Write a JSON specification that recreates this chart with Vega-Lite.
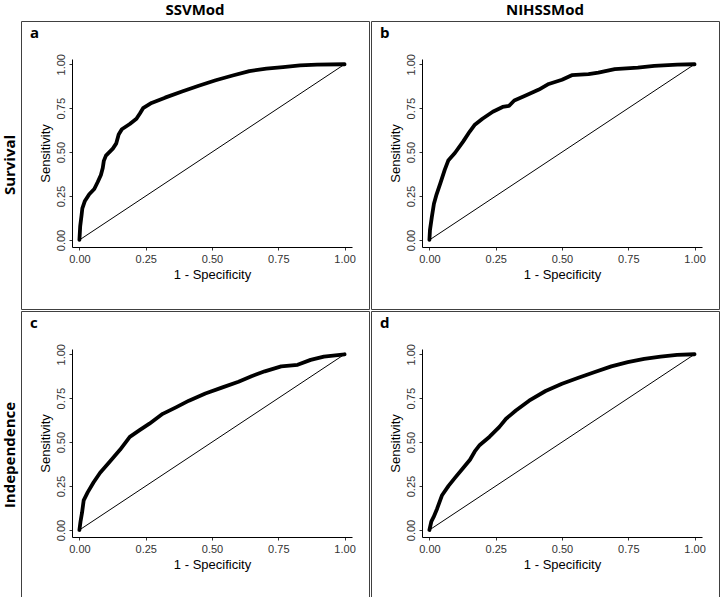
{
  "$schema": "https://vega.github.io/schema/vega-lite/v6.json",
  "padding": {"top": 3, "left": 2, "right": 0, "bottom": 0},
  "background": "white",
  "data": {
    "values": [
      {"model":"SSVMod","outcome":"Survival","series":"label","letter":"a"},
      {"model":"NIHSSMod","outcome":"Survival","series":"label","letter":"b"},
      {"model":"SSVMod","outcome":"Independence","series":"label","letter":"c"},
      {"model":"NIHSSMod","outcome":"Independence","series":"label","letter":"d"},
      {"model":"SSVMod","outcome":"Survival","series":"diag","fpr":0,"tpr":0},
      {"model":"SSVMod","outcome":"Survival","series":"diag","fpr":1,"tpr":1},
      {"model":"NIHSSMod","outcome":"Survival","series":"diag","fpr":0,"tpr":0},
      {"model":"NIHSSMod","outcome":"Survival","series":"diag","fpr":1,"tpr":1},
      {"model":"SSVMod","outcome":"Independence","series":"diag","fpr":0,"tpr":0},
      {"model":"SSVMod","outcome":"Independence","series":"diag","fpr":1,"tpr":1},
      {"model":"NIHSSMod","outcome":"Independence","series":"diag","fpr":0,"tpr":0},
      {"model":"NIHSSMod","outcome":"Independence","series":"diag","fpr":1,"tpr":1},

      {"model":"SSVMod","outcome":"Survival","series":"roc","fpr":0,"tpr":0},
      {"model":"SSVMod","outcome":"Survival","series":"roc","fpr":0.003,"tpr":0.08},
      {"model":"SSVMod","outcome":"Survival","series":"roc","fpr":0.008,"tpr":0.14},
      {"model":"SSVMod","outcome":"Survival","series":"roc","fpr":0.011,"tpr":0.18},
      {"model":"SSVMod","outcome":"Survival","series":"roc","fpr":0.02,"tpr":0.22},
      {"model":"SSVMod","outcome":"Survival","series":"roc","fpr":0.037,"tpr":0.26},
      {"model":"SSVMod","outcome":"Survival","series":"roc","fpr":0.056,"tpr":0.29},
      {"model":"SSVMod","outcome":"Survival","series":"roc","fpr":0.069,"tpr":0.33},
      {"model":"SSVMod","outcome":"Survival","series":"roc","fpr":0.081,"tpr":0.37},
      {"model":"SSVMod","outcome":"Survival","series":"roc","fpr":0.088,"tpr":0.41},
      {"model":"SSVMod","outcome":"Survival","series":"roc","fpr":0.092,"tpr":0.45},
      {"model":"SSVMod","outcome":"Survival","series":"roc","fpr":0.10,"tpr":0.48},
      {"model":"SSVMod","outcome":"Survival","series":"roc","fpr":0.126,"tpr":0.52},
      {"model":"SSVMod","outcome":"Survival","series":"roc","fpr":0.139,"tpr":0.55},
      {"model":"SSVMod","outcome":"Survival","series":"roc","fpr":0.148,"tpr":0.60},
      {"model":"SSVMod","outcome":"Survival","series":"roc","fpr":0.16,"tpr":0.63},
      {"model":"SSVMod","outcome":"Survival","series":"roc","fpr":0.19,"tpr":0.66},
      {"model":"SSVMod","outcome":"Survival","series":"roc","fpr":0.215,"tpr":0.69},
      {"model":"SSVMod","outcome":"Survival","series":"roc","fpr":0.228,"tpr":0.72},
      {"model":"SSVMod","outcome":"Survival","series":"roc","fpr":0.24,"tpr":0.75},
      {"model":"SSVMod","outcome":"Survival","series":"roc","fpr":0.272,"tpr":0.78},
      {"model":"SSVMod","outcome":"Survival","series":"roc","fpr":0.323,"tpr":0.81},
      {"model":"SSVMod","outcome":"Survival","series":"roc","fpr":0.387,"tpr":0.845},
      {"model":"SSVMod","outcome":"Survival","series":"roc","fpr":0.45,"tpr":0.878},
      {"model":"SSVMod","outcome":"Survival","series":"roc","fpr":0.514,"tpr":0.909},
      {"model":"SSVMod","outcome":"Survival","series":"roc","fpr":0.578,"tpr":0.936},
      {"model":"SSVMod","outcome":"Survival","series":"roc","fpr":0.641,"tpr":0.961},
      {"model":"SSVMod","outcome":"Survival","series":"roc","fpr":0.705,"tpr":0.975},
      {"model":"SSVMod","outcome":"Survival","series":"roc","fpr":0.768,"tpr":0.984},
      {"model":"SSVMod","outcome":"Survival","series":"roc","fpr":0.832,"tpr":0.994},
      {"model":"SSVMod","outcome":"Survival","series":"roc","fpr":0.896,"tpr":0.998},
      {"model":"SSVMod","outcome":"Survival","series":"roc","fpr":1,"tpr":1},

      {"model":"NIHSSMod","outcome":"Survival","series":"roc","fpr":0,"tpr":0},
      {"model":"NIHSSMod","outcome":"Survival","series":"roc","fpr":0.002,"tpr":0.056},
      {"model":"NIHSSMod","outcome":"Survival","series":"roc","fpr":0.009,"tpr":0.13},
      {"model":"NIHSSMod","outcome":"Survival","series":"roc","fpr":0.017,"tpr":0.206},
      {"model":"NIHSSMod","outcome":"Survival","series":"roc","fpr":0.027,"tpr":0.26},
      {"model":"NIHSSMod","outcome":"Survival","series":"roc","fpr":0.042,"tpr":0.327},
      {"model":"NIHSSMod","outcome":"Survival","series":"roc","fpr":0.058,"tpr":0.40},
      {"model":"NIHSSMod","outcome":"Survival","series":"roc","fpr":0.071,"tpr":0.452},
      {"model":"NIHSSMod","outcome":"Survival","series":"roc","fpr":0.096,"tpr":0.495},
      {"model":"NIHSSMod","outcome":"Survival","series":"roc","fpr":0.127,"tpr":0.56},
      {"model":"NIHSSMod","outcome":"Survival","series":"roc","fpr":0.152,"tpr":0.617},
      {"model":"NIHSSMod","outcome":"Survival","series":"roc","fpr":0.17,"tpr":0.654},
      {"model":"NIHSSMod","outcome":"Survival","series":"roc","fpr":0.20,"tpr":0.69},
      {"model":"NIHSSMod","outcome":"Survival","series":"roc","fpr":0.239,"tpr":0.73},
      {"model":"NIHSSMod","outcome":"Survival","series":"roc","fpr":0.276,"tpr":0.757},
      {"model":"NIHSSMod","outcome":"Survival","series":"roc","fpr":0.30,"tpr":0.763},
      {"model":"NIHSSMod","outcome":"Survival","series":"roc","fpr":0.32,"tpr":0.794},
      {"model":"NIHSSMod","outcome":"Survival","series":"roc","fpr":0.363,"tpr":0.822},
      {"model":"NIHSSMod","outcome":"Survival","series":"roc","fpr":0.413,"tpr":0.856},
      {"model":"NIHSSMod","outcome":"Survival","series":"roc","fpr":0.45,"tpr":0.888},
      {"model":"NIHSSMod","outcome":"Survival","series":"roc","fpr":0.50,"tpr":0.912},
      {"model":"NIHSSMod","outcome":"Survival","series":"roc","fpr":0.537,"tpr":0.938},
      {"model":"NIHSSMod","outcome":"Survival","series":"roc","fpr":0.60,"tpr":0.944},
      {"model":"NIHSSMod","outcome":"Survival","series":"roc","fpr":0.637,"tpr":0.953},
      {"model":"NIHSSMod","outcome":"Survival","series":"roc","fpr":0.699,"tpr":0.972},
      {"model":"NIHSSMod","outcome":"Survival","series":"roc","fpr":0.786,"tpr":0.981},
      {"model":"NIHSSMod","outcome":"Survival","series":"roc","fpr":0.848,"tpr":0.991},
      {"model":"NIHSSMod","outcome":"Survival","series":"roc","fpr":0.935,"tpr":0.998},
      {"model":"NIHSSMod","outcome":"Survival","series":"roc","fpr":1,"tpr":1},

      {"model":"SSVMod","outcome":"Independence","series":"roc","fpr":0,"tpr":0},
      {"model":"SSVMod","outcome":"Independence","series":"roc","fpr":0.004,"tpr":0.047},
      {"model":"SSVMod","outcome":"Independence","series":"roc","fpr":0.01,"tpr":0.10},
      {"model":"SSVMod","outcome":"Independence","series":"roc","fpr":0.016,"tpr":0.168},
      {"model":"SSVMod","outcome":"Independence","series":"roc","fpr":0.031,"tpr":0.214},
      {"model":"SSVMod","outcome":"Independence","series":"roc","fpr":0.053,"tpr":0.27},
      {"model":"SSVMod","outcome":"Independence","series":"roc","fpr":0.078,"tpr":0.326},
      {"model":"SSVMod","outcome":"Independence","series":"roc","fpr":0.115,"tpr":0.39},
      {"model":"SSVMod","outcome":"Independence","series":"roc","fpr":0.153,"tpr":0.456},
      {"model":"SSVMod","outcome":"Independence","series":"roc","fpr":0.19,"tpr":0.53},
      {"model":"SSVMod","outcome":"Independence","series":"roc","fpr":0.227,"tpr":0.568},
      {"model":"SSVMod","outcome":"Independence","series":"roc","fpr":0.264,"tpr":0.605},
      {"model":"SSVMod","outcome":"Independence","series":"roc","fpr":0.314,"tpr":0.661},
      {"model":"SSVMod","outcome":"Independence","series":"roc","fpr":0.364,"tpr":0.698},
      {"model":"SSVMod","outcome":"Independence","series":"roc","fpr":0.413,"tpr":0.736},
      {"model":"SSVMod","outcome":"Independence","series":"roc","fpr":0.475,"tpr":0.777},
      {"model":"SSVMod","outcome":"Independence","series":"roc","fpr":0.537,"tpr":0.81},
      {"model":"SSVMod","outcome":"Independence","series":"roc","fpr":0.60,"tpr":0.844},
      {"model":"SSVMod","outcome":"Independence","series":"roc","fpr":0.649,"tpr":0.875},
      {"model":"SSVMod","outcome":"Independence","series":"roc","fpr":0.699,"tpr":0.903},
      {"model":"SSVMod","outcome":"Independence","series":"roc","fpr":0.761,"tpr":0.931},
      {"model":"SSVMod","outcome":"Independence","series":"roc","fpr":0.823,"tpr":0.94},
      {"model":"SSVMod","outcome":"Independence","series":"roc","fpr":0.872,"tpr":0.968},
      {"model":"SSVMod","outcome":"Independence","series":"roc","fpr":0.922,"tpr":0.987},
      {"model":"SSVMod","outcome":"Independence","series":"roc","fpr":1,"tpr":1},

      {"model":"NIHSSMod","outcome":"Independence","series":"roc","fpr":0,"tpr":0},
      {"model":"NIHSSMod","outcome":"Independence","series":"roc","fpr":0.007,"tpr":0.047},
      {"model":"NIHSSMod","outcome":"Independence","series":"roc","fpr":0.016,"tpr":0.074},
      {"model":"NIHSSMod","outcome":"Independence","series":"roc","fpr":0.029,"tpr":0.121},
      {"model":"NIHSSMod","outcome":"Independence","series":"roc","fpr":0.047,"tpr":0.196},
      {"model":"NIHSSMod","outcome":"Independence","series":"roc","fpr":0.072,"tpr":0.251},
      {"model":"NIHSSMod","outcome":"Independence","series":"roc","fpr":0.097,"tpr":0.298},
      {"model":"NIHSSMod","outcome":"Independence","series":"roc","fpr":0.128,"tpr":0.354},
      {"model":"NIHSSMod","outcome":"Independence","series":"roc","fpr":0.153,"tpr":0.40},
      {"model":"NIHSSMod","outcome":"Independence","series":"roc","fpr":0.171,"tpr":0.447},
      {"model":"NIHSSMod","outcome":"Independence","series":"roc","fpr":0.19,"tpr":0.484},
      {"model":"NIHSSMod","outcome":"Independence","series":"roc","fpr":0.227,"tpr":0.531},
      {"model":"NIHSSMod","outcome":"Independence","series":"roc","fpr":0.264,"tpr":0.587},
      {"model":"NIHSSMod","outcome":"Independence","series":"roc","fpr":0.289,"tpr":0.633},
      {"model":"NIHSSMod","outcome":"Independence","series":"roc","fpr":0.326,"tpr":0.68},
      {"model":"NIHSSMod","outcome":"Independence","series":"roc","fpr":0.376,"tpr":0.736},
      {"model":"NIHSSMod","outcome":"Independence","series":"roc","fpr":0.438,"tpr":0.791},
      {"model":"NIHSSMod","outcome":"Independence","series":"roc","fpr":0.50,"tpr":0.832},
      {"model":"NIHSSMod","outcome":"Independence","series":"roc","fpr":0.562,"tpr":0.866},
      {"model":"NIHSSMod","outcome":"Independence","series":"roc","fpr":0.624,"tpr":0.899},
      {"model":"NIHSSMod","outcome":"Independence","series":"roc","fpr":0.686,"tpr":0.931},
      {"model":"NIHSSMod","outcome":"Independence","series":"roc","fpr":0.748,"tpr":0.955},
      {"model":"NIHSSMod","outcome":"Independence","series":"roc","fpr":0.81,"tpr":0.974},
      {"model":"NIHSSMod","outcome":"Independence","series":"roc","fpr":0.872,"tpr":0.987},
      {"model":"NIHSSMod","outcome":"Independence","series":"roc","fpr":0.934,"tpr":0.996},
      {"model":"NIHSSMod","outcome":"Independence","series":"roc","fpr":1,"tpr":1}
    ]
  },
  "facet": {
    "row": {
      "field": "outcome", "type": "nominal", "sort": ["Survival", "Independence"],
      "header": {"title": null, "labelAngle": -90, "labelOrient": "left", "labelFont": "Open Sans", "labelFontWeight": "bold", "labelFontSize": 15, "labelColor": "black", "labelPadding": -5}
    },
    "column": {
      "field": "model", "type": "nominal", "sort": ["SSVMod", "NIHSSMod"],
      "header": {"title": null, "labelFont": "Open Sans", "labelFontWeight": "bold", "labelFontSize": 15, "labelColor": "black", "labelPadding": 2}
    }
  },
  "spacing": 0,
  "resolve": {"axis": {"x": "independent", "y": "independent"}},
  "spec": {
    "width": 348,
    "height": 288,
    "layer": [
      {
        "transform": [{"filter": "datum.series === 'diag'"}],
        "mark": {"type": "line", "color": "black", "strokeWidth": 1},
        "encoding": {
          "x": {
            "field": "fpr", "type": "quantitative", "title": "1 - Specificity",
            "scale": {"domain": [-0.028, 1.028], "range": [51, 331], "nice": false, "zero": false},
            "axis": {"orient": "bottom", "offset": -62, "values": [0, 0.25, 0.5, 0.75, 1], "format": ".2f", "labelPadding": 3, "titlePadding": 4}
          },
          "y": {
            "field": "tpr", "type": "quantitative", "title": "Sensitivity",
            "scale": {"domain": [-0.04, 1.03], "range": [226, 38], "nice": false, "zero": false},
            "axis": {"orient": "left", "offset": -51, "values": [0, 0.25, 0.5, 0.75, 1], "format": ".2f", "labelAngle": -90, "labelAlign": "center", "labelBaseline": "bottom", "labelPadding": 3, "titlePadding": 3}
          }
        }
      },
      {
        "transform": [{"filter": "datum.series === 'roc'"}],
        "mark": {"type": "line", "color": "black", "strokeWidth": 3.8, "strokeJoin": "round", "strokeCap": "round"},
        "encoding": {
          "x": {"field": "fpr", "type": "quantitative"},
          "y": {"field": "tpr", "type": "quantitative"}
        }
      },
      {
        "transform": [{"filter": "datum.series === 'label'"}],
        "mark": {"type": "text", "font": "Open Sans", "fontWeight": "bold", "fontSize": 15, "align": "left", "baseline": "alphabetic", "color": "black"},
        "encoding": {
          "text": {"field": "letter", "type": "nominal"},
          "x": {"datum": -0.186, "type": "quantitative"},
          "y": {"datum": 1.15, "type": "quantitative"}
        }
      }
    ]
  },
  "config": {
    "view": {"stroke": "#404040", "strokeWidth": 1},
    "axis": {
      "grid": false,
      "domainColor": "black",
      "domainWidth": 1,
      "tickColor": "#333333",
      "tickSize": 3,
      "labelFont": "Liberation Sans",
      "labelFontSize": 11,
      "labelColor": "#333333",
      "titleFont": "Liberation Sans",
      "titleFontSize": 13,
      "titleFontWeight": "normal",
      "titleColor": "black"
    }
  }
}
